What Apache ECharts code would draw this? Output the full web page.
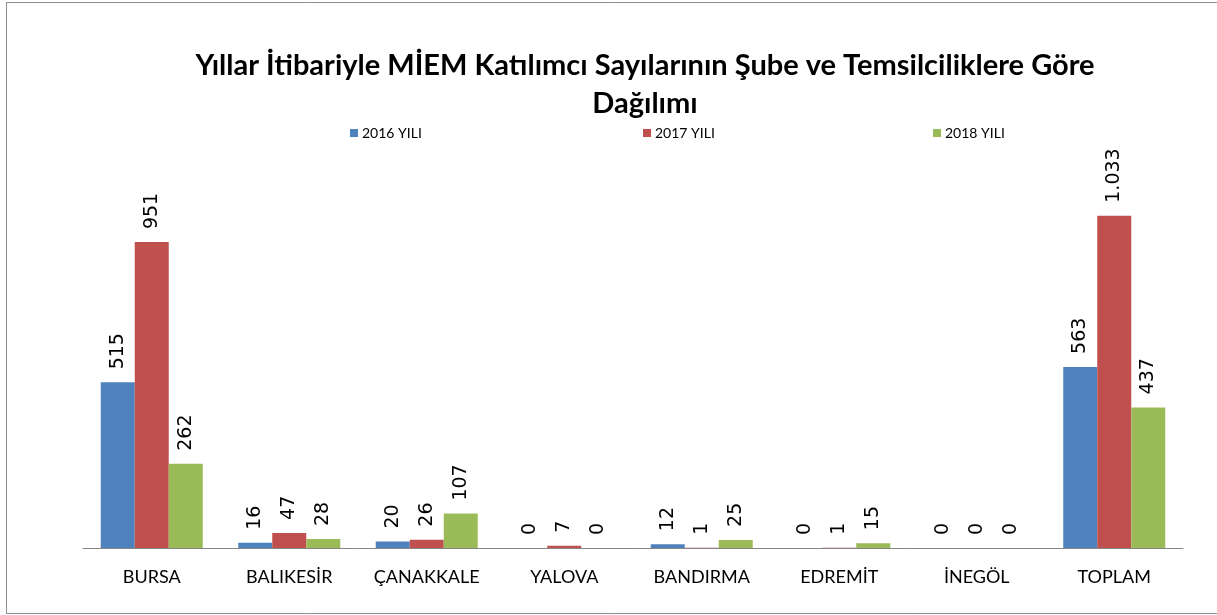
<!DOCTYPE html>
<html>
<head>
<meta charset="utf-8">
<title>MİEM Katılımcı Sayıları</title>
<script src="https://cdn.jsdelivr.net/npm/echarts@6/dist/echarts.min.js"></script>
<style>
  html, body { margin: 0; padding: 0; background: #fff; }
  #chart { width: 1217px; height: 615px; }
</style>
</head>
<body>
<div id="chart"></div>
<script>
var categories = ['BURSA', 'BALIKESİR', 'ÇANAKKALE', 'YALOVA', 'BANDIRMA', 'EDREMİT', 'İNEGÖL', 'TOPLAM'];
var seriesNames = ['2016 YILI', '2017 YILI', '2018 YILI'];
var values2016 = [515, 16, 20, 0, 12, 0, 0, 563];
var values2017 = [951, 47, 26, 7, 1, 1, 0, 1033];
var values2018 = [262, 28, 107, 0, 25, 15, 0, 437];
var colors = ['#4F81BD', '#C0504D', '#9BBB59'];

// binlik ayırıcı nokta
function fmt(p) {
  return String(p.value).replace(/\B(?=(\d{3})+(?!\d))/g, '.');
}

function makeSeries(name, data, color) {
  return {
    name: name,
    type: 'bar',
    data: data,
    barWidth: 34,
    barGap: '0%',
    itemStyle: { color: color },
    label: {
      show: true,
      position: 'top',
      rotate: 90,
      align: 'left',
      verticalAlign: 'middle',
      distance: 13,
      formatter: fmt,
      fontFamily: 'DejaVu Sans',
      fontSize: 19,
      color: '#000'
    }
  };
}

var chart = echarts.init(document.getElementById('chart'));
var legendX = [345, 638, 928];
chart.setOption({
  animation: false,
  color: colors,
  graphic: [{
    type: 'rect',
    shape: { x: 6.5, y: 2.5, width: 1212, height: 611 },
    style: { fill: 'none', stroke: '#8c8c8c', lineWidth: 1 }
  }],
  title: {
    text: 'Yıllar İtibariyle MİEM Katılımcı Sayılarının Şube ve Temsilciliklere Göre\nDağılımı',
    left: 640,
    top: 42,
    textAlign: 'center',
    textStyle: {
      fontFamily: 'Lato',
      fontWeight: 'bold',
      fontSize: 29,
      lineHeight: 38,
      color: '#000'
    }
  },
  legend: seriesNames.map(function (n, i) {
    return {
      data: [n],
      left: legendX[i],
      top: 121,
      itemWidth: 8,
      itemHeight: 8,
      itemGap: 4,
      icon: 'rect',
      textStyle: { fontFamily: 'Lato', fontSize: 14, color: '#000', padding: [0, 0, 0, -1] }
    };
  }),
  grid: { left: 83, right: 34, top: 162, bottom: 67 },
  xAxis: {
    type: 'category',
    data: categories,
    axisLine: { lineStyle: { color: '#868686' } },
    axisTick: { interval: 0, length: 6, lineStyle: { color: '#868686' } },
    axisLabel: { interval: 0, fontFamily: 'Lato', fontSize: 18, color: '#000', margin: 20 }
  },
  yAxis: {
    type: 'value',
    min: 0,
    max: 1200,
    show: false,
    splitLine: { show: false }
  },
  series: [
    makeSeries(seriesNames[0], values2016, colors[0]),
    makeSeries(seriesNames[1], values2017, colors[1]),
    makeSeries(seriesNames[2], values2018, colors[2])
  ]
});
</script>
</body>
</html>
